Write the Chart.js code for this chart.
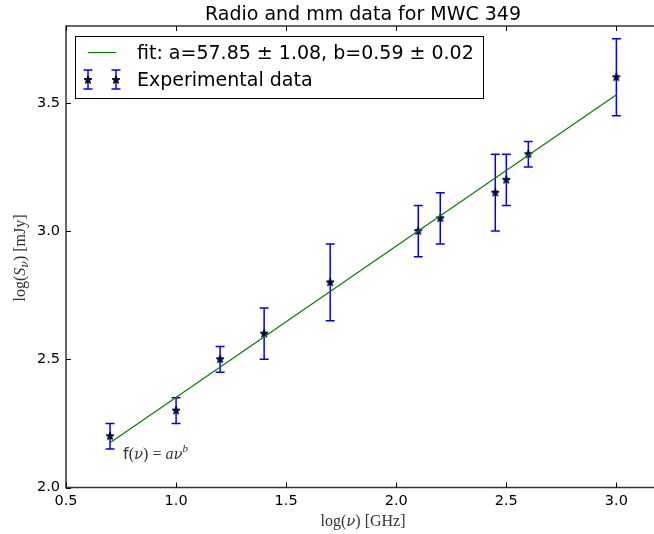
<!DOCTYPE html>
<html>
<head>
<meta charset="utf-8">
<script src="https://cdn.jsdelivr.net/npm/chart.js@4/dist/chart.umd.min.js"></script>
<style>
  html, body { margin: 0; padding: 0; background: #fff; overflow: hidden; }
  #wrap { position: absolute; left: 0; top: 0; width: 662px; height: 534px; }
  #c { width: 662px; height: 534px; }
</style>
</head>
<body>
<div id="wrap"><canvas id="c" width="662" height="534"></canvas></div>
<script>
// measured values (log nu, log S, error)
const logNu = [0.7, 1.0, 1.2, 1.4, 1.7, 2.1, 2.2, 2.45, 2.5, 2.6, 3.0];
const logS = [2.2, 2.3, 2.5, 2.6, 2.8, 3.0, 3.05, 3.15, 3.2, 3.3, 3.6];
const logSErr = [0.05, 0.05, 0.05, 0.1, 0.15, 0.1, 0.1, 0.15, 0.1, 0.05, 0.15];

// fit line end points
const fitX = [0.7, 3.0];
const fitY = [2.175, 3.532];

const xTicks = [0.5, 1.0, 1.5, 2.0, 2.5, 3.0];
const yTicks = [2.0, 2.5, 3.0, 3.5];
const xLimit = 3.2; // right edge of the axes box (falls just outside the window)

const titleText = 'Radio and mm data for MWC 349';
const fitLabel = 'fit: a=57.85 \u00b1 1.08, b=0.59 \u00b1 0.02';
const dataLabel = 'Experimental data';

const SANS = '"DejaVu Sans", sans-serif';
const CM = '"Liberation Serif", "DejaVu Serif", serif';
const NU = '"DejaVu Serif", serif';

function makeStar(r) {
  const s = Math.ceil(r * 2 + 3);
  const c = document.createElement('canvas');
  c.width = c.height = s;
  const g = c.getContext('2d');
  const cx = s / 2, cy = s / 2;
  g.beginPath();
  for (let i = 0; i < 10; i++) {
    const rad = i % 2 ? r * 0.42 : r;
    const a = -Math.PI / 2 + i * Math.PI / 5;
    const px = cx + rad * Math.cos(a), py = cy + rad * Math.sin(a);
    if (i === 0) g.moveTo(px, py); else g.lineTo(px, py);
  }
  g.closePath();
  g.fillStyle = '#000080';
  g.fill();
  g.strokeStyle = '#000';
  g.lineWidth = 1;
  g.stroke();
  return c;
}
const star = makeStar(4.2);

function drawStar(ctx, x, y) {
  ctx.drawImage(star, Math.round(x - star.width / 2), Math.round(y - star.height / 2));
}

function drawErrBar(ctx, x, yTop, yBot) {
  ctx.save();
  ctx.strokeStyle = '#0000ff';
  ctx.lineWidth = 1.5;
  ctx.beginPath();
  ctx.moveTo(x, yTop); ctx.lineTo(x, yBot);
  ctx.moveTo(x - 4.5, yTop); ctx.lineTo(x + 4.5, yTop);
  ctx.moveTo(x - 4.5, yBot); ctx.lineTo(x + 4.5, yBot);
  ctx.stroke();
  ctx.restore();
}

// text runs with mixed fonts
function runsWidth(ctx, runs) {
  let w = 0;
  runs.forEach(r => { ctx.font = r.font; w += ctx.measureText(r.t).width; });
  return w;
}
function drawRuns(ctx, runs, x, y) {
  runs.forEach(r => {
    ctx.font = r.font;
    ctx.fillText(r.t, x, y + (r.dy || 0));
    x += ctx.measureText(r.t).width;
  });
}

const decor = {
  id: 'decor',
  beforeDatasetDraw(chart, args) {
    if (args.index !== 1) return;
    const { ctx, scales: { x, y }, chartArea } = chart;
    ctx.save();
    ctx.beginPath();
    ctx.rect(chartArea.left, chartArea.top, chartArea.right - chartArea.left, chartArea.bottom - chartArea.top);
    ctx.clip();
    logNu.forEach((v, i) => {
      const px = x.getPixelForValue(v);
      drawErrBar(ctx, px, y.getPixelForValue(logS[i] + logSErr[i]), y.getPixelForValue(logS[i] - logSErr[i]));
    });
    ctx.restore();
  },
  afterDraw(chart) {
    const { ctx, scales: { x, y }, chartArea: a } = chart;
    const right = x.getPixelForValue(xLimit);
    ctx.save();
    // frame
    ctx.strokeStyle = '#333';
    ctx.lineWidth = 1.5;
    ctx.strokeRect(a.left, a.top, right - a.left, a.bottom - a.top);
    // inward ticks
    ctx.strokeStyle = '#000';
    ctx.lineWidth = 1;
    ctx.beginPath();
    xTicks.forEach(v => {
      const px = Math.round(x.getPixelForValue(v)) + 0.5;
      ctx.moveTo(px, a.bottom); ctx.lineTo(px, a.bottom - 5);
      ctx.moveTo(px, a.top); ctx.lineTo(px, a.top + 5);
    });
    yTicks.forEach(v => {
      const py = Math.round(y.getPixelForValue(v)) + 0.5;
      ctx.moveTo(a.left, py); ctx.lineTo(a.left + 5, py);
      ctx.moveTo(right, py); ctx.lineTo(right - 5, py);
    });
    ctx.stroke();

    // title
    ctx.fillStyle = '#000';
    ctx.textAlign = 'center';
    ctx.textBaseline = 'alphabetic';
    ctx.font = '19px ' + SANS;
    ctx.fillText(titleText, 363, 20);
    ctx.textAlign = 'left';

    // x label
    ctx.fillStyle = '#333';
    const xl = [
      { t: 'log(', font: '16px ' + CM },
      { t: '\u03bd', font: 'italic 15px ' + NU },
      { t: ') [GHz]', font: '16px ' + CM }
    ];
    drawRuns(ctx, xl, 363 - runsWidth(ctx, xl) / 2, 526);

    // y label
    const yl = [
      { t: 'log(', font: '16px ' + CM },
      { t: 'S', font: 'italic 16px ' + CM },
      { t: '\u03bd', font: 'italic 11px ' + NU, dy: 3 },
      { t: ') [mJy]', font: '16px ' + CM }
    ];
    ctx.save();
    ctx.translate(25, 258);
    ctx.rotate(-Math.PI / 2);
    drawRuns(ctx, yl, -runsWidth(ctx, yl) / 2, 0);
    ctx.restore();

    // annotation
    const an = [
      { t: 'f', font: '16px ' + SANS },
      { t: '(', font: '16px ' + CM },
      { t: '\u03bd', font: 'italic 15px ' + NU },
      { t: ') = ', font: '16px ' + CM },
      { t: 'a', font: 'italic 16px ' + CM },
      { t: '\u03bd', font: 'italic 15px ' + NU },
      { t: 'b', font: 'italic 11px ' + CM, dy: -7 }
    ];
    drawRuns(ctx, an, 123, 459);

    // legend
    ctx.fillStyle = '#fff';
    ctx.fillRect(75, 36, 408, 62);
    ctx.strokeStyle = '#000';
    ctx.lineWidth = 1;
    ctx.strokeRect(75.5, 36.5, 408, 62);
    ctx.strokeStyle = '#008000';
    ctx.lineWidth = 1.2;
    ctx.beginPath();
    ctx.moveTo(88, 52.5); ctx.lineTo(116, 52.5);
    ctx.stroke();
    [88, 116].forEach(px => {
      drawErrBar(ctx, px, 70, 89);
      drawStar(ctx, px, 79.5);
    });
    ctx.fillStyle = '#000';
    ctx.font = '19px ' + SANS;
    ctx.fillText(fitLabel, 137, 59);
    ctx.fillText(dataLabel, 137, 86);
    ctx.restore();
  }
};

new Chart(document.getElementById('c'), {
  data: {
    datasets: [
      {
        type: 'line',
        data: fitX.map((v, i) => ({ x: v, y: fitY[i] })),
        borderColor: '#008000',
        borderWidth: 1.2,
        pointRadius: 0,
        fill: false,
        tension: 0
      },
      {
        type: 'scatter',
        data: logNu.map((v, i) => ({ x: v, y: logS[i] })),
        pointStyle: star,
        pointRadius: 5
      }
    ]
  },
  options: {
    responsive: false,
    animation: false,
    events: [],
    layout: { padding: { left: 0, right: -8, top: 26, bottom: 0 } },
    plugins: { legend: { display: false }, tooltip: { enabled: false }, title: { display: false } },
    scales: {
      x: {
        type: 'linear',
        min: 0.5,
        max: 3.18,
        grid: { display: false, drawTicks: false },
        border: { display: false },
        afterBuildTicks: s => { s.ticks = xTicks.map(v => ({ value: v })); },
        afterFit: s => { s.height = 46.5; },
        ticks: {
          color: '#000',
          padding: 5,
          maxRotation: 0,
          font: { family: SANS, size: 14.5 },
          callback: v => v.toFixed(1)
        }
      },
      y: {
        type: 'linear',
        min: 2.0,
        max: 3.8,
        grid: { display: false, drawTicks: false },
        border: { display: false },
        afterBuildTicks: s => { s.ticks = yTicks.map(v => ({ value: v })); },
        afterFit: s => { s.width = 66; },
        ticks: {
          color: '#000',
          padding: 6,
          font: { family: SANS, size: 14.5 },
          callback: v => v.toFixed(1)
        }
      }
    }
  },
  plugins: [decor]
});
</script>
</body>
</html>
